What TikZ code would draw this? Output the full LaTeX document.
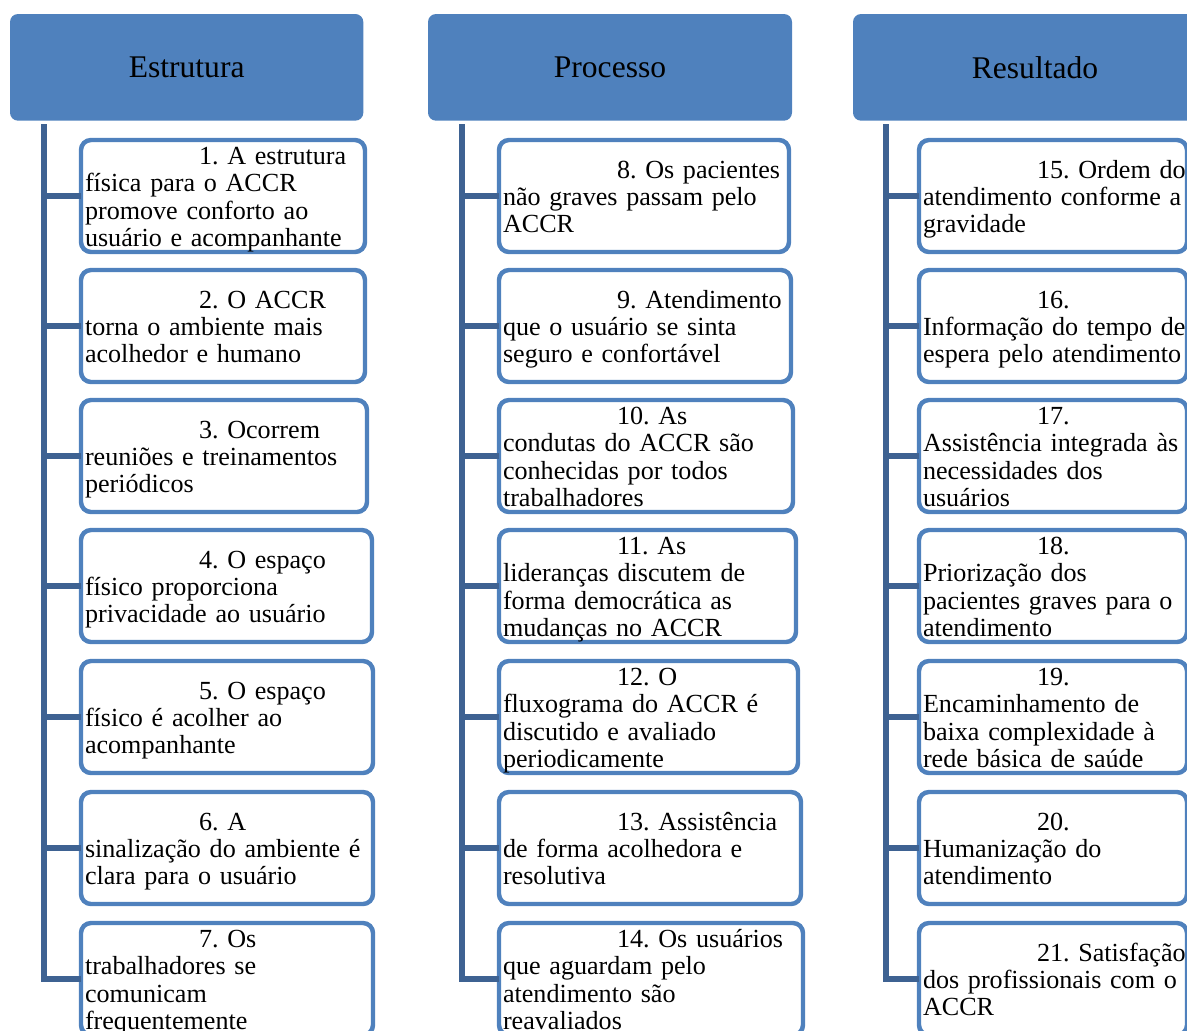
\documentclass[tikz,border=0pt]{standalone}
\usepackage{fontspec}
\setmainfont{Liberation Serif}
\usetikzlibrary{positioning}
\definecolor{hdrblue}{RGB}{79,129,189}
\definecolor{linkblue}{RGB}{62,98,146}
\tikzset{header/.style={fill=hdrblue, rounded corners=3.6pt, anchor=north west, inner sep=0pt, outer sep=0pt, minimum height=48pt, font=\fontsize{14.2}{16}\selectfont},
item/.style={draw=hdrblue, line width=2pt, rounded corners=4.5pt, fill=white, anchor=north west, inner xsep=1.8pt, inner ysep=0pt, outer sep=0pt, minimum height=50.4pt, align=left, text width={#1*0.45pt-3.6pt}, font=\fontsize{11.75}{12.35}\selectfont, execute at begin node={\frenchspacing\hyphenpenalty=10000\exhyphenpenalty=10000\strut}, execute at end node={\strut\par\vspace{-3.6pt}}},
link/.style={draw=linkblue, line width=2.7pt}}
\newcommand{\ind}{\hspace*{51.3pt}}

\begin{document}
\begin{tikzpicture}[x=0.45pt, y=-0.45pt]
\useasboundingbox (0,0) rectangle (1187,1030);
\clip (0,0) rectangle (1187,1030);
% headers
\node (estr) at (10,14) [header, minimum width=159pt] {Estrutura};
\node (proc) at (428,14) [header, minimum width=163.8pt] {Processo};
\node (res) at (853,14) [header, minimum width=163.8pt] {Resultado};
% Estrutura
\node (e1) at (81,140) [item=284] {\ind 1. A estrutura\\física para o ACCR\\promove conforto ao\\usuário e acompanhante};
\node (e2) at (81,270) [item=284] {\ind 2. O ACCR\\torna o ambiente mais\\acolhedor e humano};
\node (e3) at (81,400) [item=286] {\ind 3. Ocorrem\\reuniões e treinamentos\\periódicos};
\node (e4) at (81,530) [item=291] {\ind 4. O espaço\\físico proporciona\\privacidade ao usuário};
\node (e5) at (81,661) [item=292] {\ind 5. O espaço\\físico é acolher ao\\acompanhante};
\node (e6) at (81,792) [item=292] {\ind 6. A\\sinalização do ambiente é\\clara para o usuário};
\node (e7) at (81,923) [item=292] {\ind 7. Os\\trabalhadores se\\comunicam\\frequentemente};
% Processo
\node (p1) at (499,140) [item=290] {\ind 8.~Os~pacientes\\não graves passam pelo\\ACCR};
\node (p2) at (499,270) [item=292] {\ind 9.~Atendimento\\que o usuário se sinta\\seguro e confortável};
\node (p3) at (499,400) [item=294] {\ind 10. As\\condutas do ACCR são\\conhecidas por todos\\trabalhadores};
\node (p4) at (499,530) [item=297] {\ind 11. As\\lideranças discutem de\\forma democrática as\\mudanças no ACCR};
\node (p5) at (499,661) [item=299] {\ind 12. O\\fluxograma do ACCR é\\discutido e avaliado\\periodicamente};
\node (p6) at (499,792) [item=302] {\ind 13.~Assistência\\de forma acolhedora e\\resolutiva};
\node (p7) at (499,923) [item=304] {\ind 14.~Os~usuários\\que aguardam pelo\\atendimento são\\reavaliados};
% Resultado
\node (r1) at (919,140) [item=268] {\ind 15.~Ordem~do\\atendimento~conforme~a\\gravidade};
\node (r2) at (919,270) [item=268] {\ind 16.\\Informação~do~tempo~de\\espera~pelo~atendimento};
\node (r3) at (919,400) [item=268] {\ind 17.\\Assistência~integrada~às\\necessidades dos\\usuários};
\node (r4) at (919,530) [item=268] {\ind 18.\\Priorização dos\\pacientes~graves~para~o\\atendimento};
\node (r5) at (919,661) [item=268] {\ind 19.\\Encaminhamento de\\baixa~complexidade~à\\rede~básica~de~saúde};
\node (r6) at (919,792) [item=268] {\ind 20.\\Humanização do\\atendimento};
\node (r7) at (919,923) [item=268] {\ind 21.~Satisfação\\dos~profissionais~com~o\\ACCR};
% trunks
\coordinate (te) at (44,124);
\coordinate (tp) at (462,124);
\coordinate (tr) at (886,124);
\draw[link] (te) |- (e7.west);
\draw[link] (tp) |- (p7.west);
\draw[link] (tr) |- (r7.west);
\foreach \i in {1,...,6} {
  \draw[link] (te |- e\i.west) -- (e\i.west);
  \draw[link] (tp |- p\i.west) -- (p\i.west);
  \draw[link] (tr |- r\i.west) -- (r\i.west);
}
\end{tikzpicture}
\end{document}
